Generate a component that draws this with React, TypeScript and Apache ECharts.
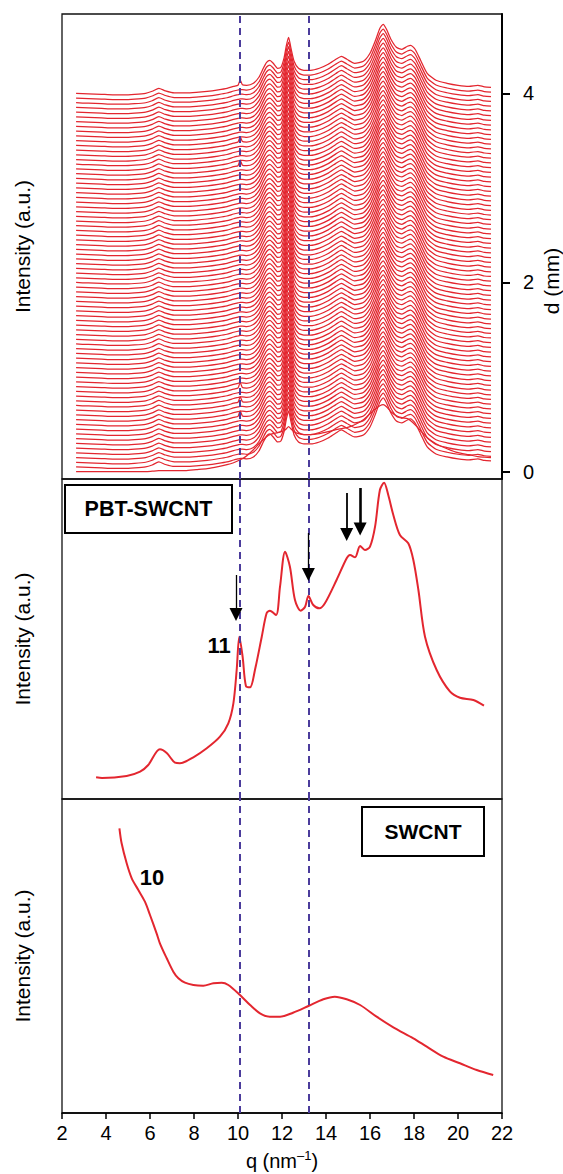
import React, { useEffect, useRef } from "react";
import * as echarts from "echarts";

// ---------- data ----------
const qTicks = [2, 4, 6, 8, 10, 12, 14, 16, 18, 20, 22];
const dTickValues = [0, 2, 4];
const dashedQ = [10.1, 13.23];

// waterfall offsets d (mm), bottom to top
const traceD = [
  0, 0.05, 0.1, 0.15, 0.2, 0.25, 0.3, 0.35, 0.4, 0.45, 0.5, 0.55, 0.6, 0.65, 0.7, 0.75, 0.8, 0.85, 0.9, 0.95,
  1.0, 1.05, 1.1, 1.15, 1.2, 1.25, 1.3, 1.35, 1.4, 1.45, 1.5, 1.55, 1.6, 1.65, 1.7, 1.75, 1.8, 1.85, 1.9, 1.95,
  2.0, 2.05, 2.1, 2.15, 2.2, 2.25, 2.3, 2.35, 2.4, 2.45, 2.5, 2.55, 2.6, 2.65, 2.7, 2.75, 2.8, 2.85, 2.9, 2.95,
  3.0, 3.05, 3.1, 3.15, 3.2, 3.25, 3.3, 3.35, 3.4, 3.45, 3.5, 3.55, 3.6, 3.65, 3.7, 3.75, 3.8, 3.85, 3.9, 3.95, 4.0,
];
// traces showing the small peak at q = 10.1
const peak101Traces = [80, 68, 63, 16, 13, 10];
const peak101Extra = 5;

const wfQ = [
  2.64, 3.2, 3.8, 4.3, 4.8, 5.3, 5.8, 6.1, 6.4, 6.7, 7.1, 7.6, 8.1, 8.6, 9.1, 9.5, 9.8, 10.0, 10.1, 10.2,
  10.4, 10.7, 10.95, 11.15, 11.3, 11.45, 11.6, 11.8, 11.95, 12.1, 12.2, 12.3, 12.4, 12.55, 12.75, 13.0, 13.3,
  13.7, 14.1, 14.45, 14.7, 14.95, 15.3, 15.7, 16.0, 16.25, 16.45, 16.6, 16.75, 16.95, 17.2, 17.45, 17.7, 17.85,
  18.05, 18.3, 18.6, 19.0, 19.5, 20.0, 20.5, 20.9, 21.2, 21.5,
];
// typical trace intensity (a.u.)
const wfTypical = [
  0, -0.5, -1, -1.5, -1.5, -1, 0, 2, 5, 2.5, 0.5, 0.5, 1, 2, 3.5, 5, 7, 8, 8.5, 8.5,
  8, 10, 16, 25, 31, 33, 30, 25, 26, 36, 48, 56, 46, 32, 25, 23, 23,
  25, 29, 34, 37, 34, 30, 32, 40, 53, 65, 69, 64, 54, 46, 44, 47, 48,
  44, 33, 20, 13, 10, 8, 7, 8, 6.5, 6,
];
// bottom trace (d = 0) intensity (a.u.)
const wfBottom = [
  0, 0, 0, 0, 0, 0, 0, 0.5, 1, 1, 1, 1, 2, 3, 5, 7, 9, 11, 12, 13,
  16, 22, 28, 32, 35, 37, 38, 39, 40, 41, 43, 45, 43, 40, 38, 37, 37,
  38, 40, 42, 43, 44, 47, 52, 58, 63, 66, 67, 65, 60, 56, 54, 53, 51,
  47, 41, 34, 28, 23, 19, 17, 15, 14.5, 14,
];
const intensityScale = 1 / 94.6; // a.u. -> mm of offset axis

// PBT-SWCNT
const pbtQ = [
  3.55, 3.82, 4.94, 5.55, 5.92, 6.45, 6.76, 7.14, 7.36, 7.97, 8.58, 9.18, 9.56, 9.79, 9.94, 10.06, 10.21, 10.36,
  10.55, 10.77, 11.08, 11.3, 11.45, 11.73, 11.91, 12.14, 12.36, 12.59, 12.85, 13.05, 13.2, 13.42, 13.7, 13.95,
  14.48, 14.94, 15.09, 15.32, 15.55, 15.77, 16.0, 16.23, 16.45, 16.64, 16.83, 17.06, 17.36, 17.74, 17.97, 18.2,
  18.5, 19.03, 19.64, 20.09, 20.7, 21.18,
];
const pbtI = [
  21.7, 21, 23, 27.3, 34, 49.7, 46, 36.3, 35.7, 41.7, 50.7, 62.3, 75.7, 95.7, 129, 162.3, 142.3, 113,
  111.7, 129, 162.3, 185.7, 188.3, 184, 212.3, 247.3, 232.3, 199, 188.3, 192.3, 203, 194, 190.7, 195.7,
  219, 240.7, 244, 241.7, 253, 249, 252.3, 272.3, 309, 316.3, 304, 284, 264, 255.7, 239, 209,
  162.3, 129, 107.3, 101.3, 99, 93.3,
];

// SWCNT
const swQ = [
  4.61, 4.71, 4.94, 5.17, 5.47, 5.77, 6.0, 6.3, 6.45, 6.76, 7.06, 7.29, 7.59, 7.97, 8.42, 8.88, 9.26, 9.56,
  10.09, 10.55, 11.0, 11.45, 11.91, 12.5, 13.2, 13.88, 14.4, 14.94, 15.55, 16.3, 17.06, 17.97, 18.58, 19.33,
  20.09, 20.85, 21.6,
];
const swI = [
  284.7, 269.7, 249.7, 234.7, 223, 211.3, 198, 179.7, 169.7, 154.7, 141.3, 134.7, 130.3, 128, 127.3, 129.7,
  130.3, 128, 118, 108, 99.7, 96.3, 96.3, 100.3, 107, 113.7, 116.3, 113.7, 108, 96.3, 85.7, 74.7, 66.3, 56.3,
  49.7, 43, 38,
];

// arrows (annotation) in PBT panel
const arrowQ = [9.91, 13.2, 14.94, 15.55];
const arrowTail = [224, 266, 306, 311];
const arrowEnd = [184.5, 224.5, 264.5, 270];
const arrowWidth = [1.3, 1.3, 1.8, 2.6];

const FONT = "'Liberation Sans', Arial, Helvetica, sans-serif";
const RED = "#e3262f";
const DASH = "#4b3c9c";

export default function App() {
  const ref = useRef<HTMLDivElement>(null);
  useEffect(() => {
    document.body.style.margin = "0";
    if (!ref.current) return;
    const chart = echarts.init(ref.current, null, { renderer: "svg" });

    const grids = [
      { left: 62, top: 14, width: 440, height: 465 },
      { left: 62, top: 479, width: 440, height: 320 },
      { left: 62, top: 799, width: 440, height: 314 },
    ].map((g) => ({ ...g, show: true, borderColor: "#111", borderWidth: 1.3, backgroundColor: "transparent" }));

    const xAxes = [0, 1, 2].map((i) => ({
      gridIndex: i,
      type: "value",
      min: qTicks[0],
      max: qTicks[qTicks.length - 1],
      interval: 2,
      axisLine: { show: i === 2, onZero: false, lineStyle: { color: "#000", width: 1.5 } },
      axisTick: { show: i === 2, inside: false, length: 6, lineStyle: { color: "#000", width: 1.5 } },
      axisLabel: { show: i === 2, fontSize: 20, color: "#000", fontFamily: FONT, margin: 10 },
      splitLine: { show: false },
      name: i === 2 ? "{n|q (nm}{sup|–1}{n|)}" : "",
      nameLocation: "middle",
      nameGap: 36,
      nameTextStyle: {
        rich: {
          n: { fontSize: 20, color: "#000", fontFamily: FONT, lineHeight: 24 },
          sup: { fontSize: 13, color: "#000", fontFamily: FONT, verticalAlign: "top", lineHeight: 14 },
        },
      },
    }));

    const hiddenLeft = (gridIndex: number, min: number, max: number) => ({
      gridIndex,
      type: "value",
      position: "left",
      min,
      max,
      axisLine: { show: false },
      axisTick: { show: false },
      axisLabel: { show: false },
      splitLine: { show: false },
      name: "Intensity (a.u.)",
      nameLocation: "middle",
      nameRotate: 90,
      nameGap: 29,
      nameTextStyle: { fontSize: 21, color: "#000", fontFamily: FONT },
    });

    const topMin = -0.077;
    const topMax = 4.838;

    const yAxes = [
      {
        gridIndex: 0,
        type: "value",
        position: "right",
        min: topMin,
        max: topMax,
        axisLine: { show: true, lineStyle: { color: "#000", width: 2 } },
        axisTick: { show: true, inside: false, length: 8, customValues: dTickValues, lineStyle: { color: "#000", width: 2 } },
        axisLabel: { show: true, customValues: dTickValues, fontSize: 20, color: "#000", fontFamily: FONT, margin: 21 },
        splitLine: { show: false },
      },
      hiddenLeft(0, topMin, topMax),
      hiddenLeft(1, 0, 320),
      hiddenLeft(2, 0, 314),
    ];

    const waterfall = traceD.map((d, i) => ({
      type: "line",
      xAxisIndex: 0,
      yAxisIndex: 0,
      silent: true,
      symbol: "none",
      showSymbol: false,
      smooth: 0.2,
      lineStyle: { color: RED, width: 1.25 },
      z: 2,
      data: wfQ.map((q, j) => {
        const base = i === 0 ? wfBottom[j] : wfTypical[j];
        const extra = i !== 0 && peak101Traces.includes(i) && q === 10.1 ? peak101Extra : 0;
        return [q, d + (base + extra) * intensityScale];
      }),
    }));

    const dashedSeries = [0, 1, 2].map((i) => ({
      type: "line",
      xAxisIndex: i,
      yAxisIndex: i === 0 ? 0 : i + 1,
      data: [],
      silent: true,
      z: 10,
      markLine: {
        silent: true,
        animation: false,
        symbol: ["none", "none"],
        label: { show: false },
        lineStyle: { color: DASH, type: [7, 5], width: 2 },
        data: dashedQ.map((q) => ({ xAxis: q })),
      },
    }));

    const pbtSeries = {
      type: "line",
      xAxisIndex: 1,
      yAxisIndex: 2,
      silent: true,
      symbol: "none",
      showSymbol: false,
      smooth: 0.3,
      lineStyle: { color: RED, width: 2 },
      z: 3,
      data: pbtQ.map((q, j) => [q, pbtI[j]]),
      markLine: {
        silent: true,
        animation: false,
        symbol: ["none", "triangle"],
        symbolSize: 13,
        label: { show: false },
        lineStyle: { color: "#000", type: "solid", width: 1.3 },
        data: arrowQ.map((q, k) => [
          { coord: [q, arrowTail[k]], lineStyle: { width: arrowWidth[k], color: "#000", type: "solid" } },
          { coord: [q, arrowEnd[k]] },
        ]),
      },
    };

    const swSeries = {
      type: "line",
      xAxisIndex: 2,
      yAxisIndex: 3,
      silent: true,
      symbol: "none",
      showSymbol: false,
      smooth: 0.3,
      lineStyle: { color: RED, width: 2 },
      z: 3,
      data: swQ.map((q, j) => [q, swI[j]]),
    };

    const boldText = (text: string, x: number, y: number, size = 21) => ({
      type: "text",
      x,
      y,
      silent: true,
      z: 20,
      style: {
        text,
        fill: "#000",
        font: `bold ${size}px ${FONT}`,
        align: "center",
        verticalAlign: "middle",
      },
    });

    chart.setOption({
      animation: false,
      grid: grids,
      xAxis: xAxes,
      yAxis: yAxes,
      series: [...waterfall, ...dashedSeries, pbtSeries, swSeries],
      graphic: [
        {
          type: "text",
          x: 551,
          y: 281,
          rotation: Math.PI / 2,
          silent: true,
          style: { text: "d (mm)", fill: "#000", font: `21px ${FONT}`, align: "center", verticalAlign: "middle" },
        },
        {
          type: "rect",
          shape: { x: 65, y: 485, width: 167, height: 48 },
          silent: true,
          z: 19,
          style: { fill: "#fff", stroke: "#000", lineWidth: 2 },
        },
        boldText("PBT-SWCNT", 148.5, 509, 21.5),
        {
          type: "rect",
          shape: { x: 362, y: 807, width: 122, height: 49 },
          silent: true,
          z: 19,
          style: { fill: "#fff", stroke: "#000", lineWidth: 2 },
        },
        boldText("SWCNT", 423, 831),
        boldText("11", 219, 645, 22),
        boldText("10", 152, 877, 22),
      ],
    });

    return () => chart.dispose();
  }, []);

  return <div ref={ref} style={{ width: 563, height: 1174 }} />;
}
